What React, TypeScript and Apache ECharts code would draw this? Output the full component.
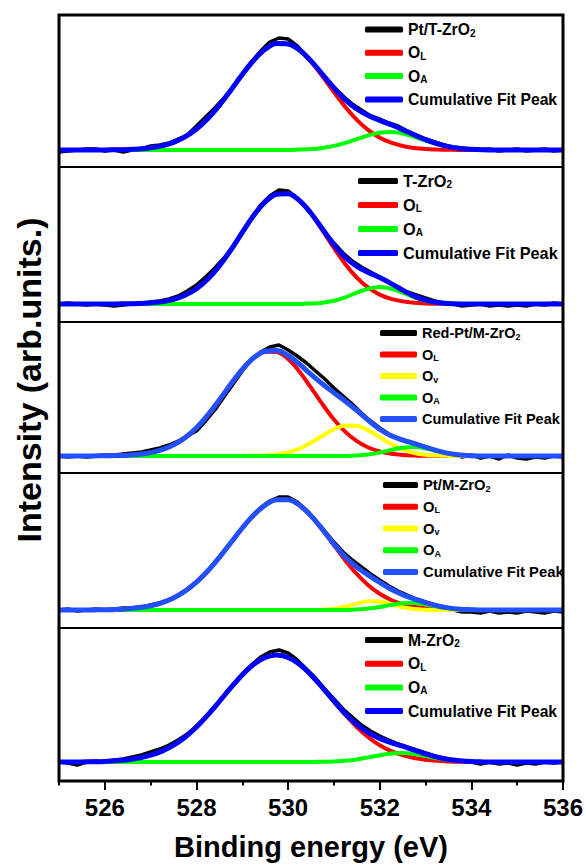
import React, { useEffect, useRef } from 'react';
import * as echarts from 'echarts';

// ---------- data ----------
// energy grid of the fitted curves (eV)
const FIT_E = [525, 525.25, 525.5, 525.75, 526, 526.25, 526.5, 526.75, 527, 527.25, 527.5, 527.75, 528, 528.25, 528.5, 528.75, 529, 529.25, 529.5, 529.75, 530, 530.25, 530.5, 530.75, 531, 531.25, 531.5, 531.75, 532, 532.25, 532.5, 532.75, 533, 533.25, 533.5, 533.75, 534, 534.25, 534.5, 534.75, 535, 535.25, 535.5, 535.75, 536];
// energy grid of the measured spectra (eV)
const DATA_E = [525.0, 525.2, 525.4, 525.6, 525.8, 526.0, 526.2, 526.4, 526.6, 526.8, 527.0, 527.2, 527.4, 527.6, 527.8, 528.0, 528.2, 528.4, 528.6, 528.8, 529.0, 529.2, 529.4, 529.6, 529.8, 530.0, 530.2, 530.4, 530.6, 530.8, 531.0, 531.2, 531.4, 531.6, 531.8, 532.0, 532.2, 532.4, 532.6, 532.8, 533.0, 533.2, 533.4, 533.6, 533.8, 534.0, 534.2, 534.4, 534.6, 534.8, 535.0, 535.2, 535.4, 535.6, 535.8, 536.0];

const SAMPLE_NAMES = ['Pt/T-ZrO2', 'T-ZrO2', 'Red-Pt/M-ZrO2', 'Pt/M-ZrO2', 'M-ZrO2'];
const X_TICKS = [526, 528, 530, 532, 534, 536];
const X_MINOR_TICKS = [525, 527, 529, 531, 533, 535];

// Panel 1: Pt/T-ZrO2
const P1_DATA = [-2, -1, 0, 1, 1, -1, 0, -2, 0, 1, 4, 5, 7, 11, 15, 24, 33, 42, 52, 63, 76, 88, 99, 108, 112, 111, 104, 94, 83, 72, 63, 54, 46, 40, 34, 31, 27, 24, 19, 15, 11, 8, 5, 3, 2, 1, 0, 1, -1, 0, 1, -1, 0, 1, -1, 0];
const P1_OL = [0, 0, 0, 0, 0.1, 0.2, 0.5, 1.1, 2.3, 4.3, 7.7, 13.1, 21.0, 31.6, 44.7, 59.8, 75.5, 89.8, 100.7, 106.4, 106.0, 99.6, 88.2, 73.6, 58.0, 43.0, 30.1, 19.8, 12.3, 7.3, 4.0, 2.1, 1.0, 0.5, 0.2, 0, 0, 0, 0, 0, 0, 0, 0, 0, 0];
const P1_OA = [0, 0, 0, 0, 0, 0, 0, 0, 0, 0, 0, 0, 0, 0, 0, 0, 0, 0, 0, 0, 0, 0.4, 0.9, 2.1, 4.1, 7.2, 10.9, 14.6, 17.3, 17.9, 16.4, 13.2, 9.4, 5.8, 3.2, 1.6, 0.7, 0.2, 0, 0, 0, 0, 0, 0, 0];
const P1_CUM = [0, 0, 0, 0, 0.1, 0.2, 0.5, 1.1, 2.3, 4.3, 7.7, 13.1, 21.0, 31.6, 44.7, 59.8, 75.5, 89.8, 100.7, 106.4, 106.0, 100.0, 89.1, 75.7, 62.1, 50.2, 41.0, 34.4, 29.6, 25.2, 20.4, 15.3, 10.4, 6.3, 3.4, 1.6, 0.7, 0.2, 0, 0, 0, 0, 0, 0, 0];

// Panel 2: T-ZrO2
const P2_DATA = [0, 1, 0, -1, 0, -1, -2, -1, 0, 1, 2, 3, 5, 8, 13, 19, 27, 36, 46, 57, 71, 86, 99, 108, 114, 113, 106, 96, 84, 72, 61, 51, 43, 37, 32, 27, 22, 17, 12, 9, 6, 3, 1, 0, -2, -1, 0, -2, -1, -2, -1, -2, 0, -1, 1, 0];
const P2_OL = [0, 0, 0, 0, 0, 0.1, 0.2, 0.5, 1.1, 2.3, 4.7, 8.8, 15.3, 25.0, 38.1, 54.0, 71.6, 88.5, 102.0, 109.8, 110.3, 103.3, 90.4, 73.7, 56.1, 39.8, 26.4, 16.3, 9.4, 5.1, 2.6, 1.2, 0.5, 0.2, 0.1, 0, 0, 0, 0, 0, 0, 0, 0, 0, 0];
const P2_OA = [0, 0, 0, 0, 0, 0, 0, 0, 0, 0, 0, 0, 0, 0, 0, 0, 0, 0, 0, 0, 0, 0, 0.4, 1.3, 3.3, 6.7, 11.3, 15.3, 17.0, 15.3, 11.3, 6.7, 3.3, 1.3, 0.4, 0.1, 0, 0, 0, 0, 0, 0, 0, 0, 0];
const P2_CUM = [0, 0, 0, 0, 0, 0.1, 0.2, 0.5, 1.1, 2.3, 4.7, 8.8, 15.3, 25.0, 38.1, 54.0, 71.6, 88.5, 102.0, 109.8, 110.3, 103.3, 90.8, 75.0, 59.4, 46.5, 37.7, 31.6, 26.4, 20.4, 13.9, 7.9, 3.8, 1.5, 0.5, 0.1, 0, 0, 0, 0, 0, 0, 0, 0, 0];

// Panel 3: Red-Pt/M-ZrO2
const P3_DATA = [0, -1, 0, -1, 0, 1, 1, 2, 3, 4, 6, 8, 11, 15, 20, 25, 35, 46, 59, 72, 85, 96, 104, 109, 111, 106, 100, 93, 85, 77, 68, 60, 52, 43, 35, 28, 22, 18, 15, 12, 9, 6, 3, 2, -1, 1, -2, 0, -3, 1, -2, -3, -1, -2, 0, -1];
const P3_OL = [0, 0, 0, 0.1, 0.2, 0.4, 0.8, 1.7, 3.4, 6.3, 11.1, 18.2, 28.2, 41.1, 56.1, 71.9, 86.6, 98.1, 104.3, 104.0, 96.9, 84.3, 68.4, 51.8, 36.5, 24.1, 14.8, 8.5, 4.6, 2.3, 1.1, 0.5, 0.2, 0.1, 0, 0, 0, 0, 0, 0, 0, 0, 0, 0, 0];
const P3_OV = [0, 0, 0, 0, 0, 0, 0, 0, 0, 0, 0, 0, 0, 0, 0, 0, 0, 0.2, 0.5, 1.5, 3.6, 7.4, 13.2, 20.2, 26.8, 30.6, 30.2, 25.6, 18.8, 11.9, 6.5, 3.0, 1.2, 0.4, 0.1, 0, 0, 0, 0, 0, 0, 0, 0, 0, 0];
const P3_OA = [0, 0, 0, 0, 0, 0, 0, 0, 0, 0, 0, 0, 0, 0, 0, 0, 0, 0, 0, 0, 0, 0, 0, 0, 0, 0.1, 0.5, 1.5, 3.4, 6.0, 8.3, 9.0, 7.5, 4.9, 2.5, 1.0, 0.3, 0, 0, 0, 0, 0, 0, 0, 0];
const P3_CUM = [0, 0, 0, 0.1, 0.2, 0.4, 0.8, 1.7, 3.4, 6.3, 11.1, 18.2, 28.2, 41.1, 56.1, 71.9, 86.6, 98.3, 104.8, 105.5, 100.5, 91.7, 81.6, 72.0, 63.3, 54.8, 45.5, 35.6, 26.8, 20.2, 15.9, 12.5, 8.9, 5.4, 2.6, 1.0, 0.3, 0, 0, 0, 0, 0, 0, 0, 0];

// Panel 4: Pt/M-ZrO2
const P4_DATA = [0, 1, -1, 0, 1, 0, 1, 2, 2, 3, 5, 7, 10, 15, 21, 28, 37, 47, 58, 70, 82, 93, 102, 109, 113, 113, 108, 100, 90, 79, 68, 58, 50, 43, 36, 30, 24, 19, 15, 11, 8, 5, 2, 0, -2, -2, -3, -1, -3, -2, -3, -1, -2, -3, -1, -2];
const P4_OL = [0, 0, 0, 0.1, 0.3, 0.6, 1.3, 2.4, 4.3, 7.4, 12.1, 18.8, 27.8, 39.2, 52.7, 67.3, 82.0, 95.0, 104.9, 110.3, 110.3, 104.7, 94.1, 80.3, 64.8, 49.6, 36.0, 24.8, 16.2, 10.0, 5.9, 3.3, 1.7, 0.9, 0.4, 0.2, 0.1, 0, 0, 0, 0, 0, 0, 0, 0];
const P4_OV = [0, 0, 0, 0, 0, 0, 0, 0, 0, 0, 0, 0, 0, 0, 0, 0, 0, 0, 0, 0, 0, 0, 0, 0.3, 1.2, 3.2, 6.4, 8.7, 8.4, 5.7, 2.7, 0.9, 0.2, 0, 0, 0, 0, 0, 0, 0, 0, 0, 0, 0, 0];
const P4_OA = [0, 0, 0, 0, 0, 0, 0, 0, 0, 0, 0, 0, 0, 0, 0, 0, 0, 0, 0, 0, 0, 0, 0, 0, 0, 0.1, 0.5, 1.4, 3.0, 5.1, 6.7, 6.9, 5.5, 3.4, 1.7, 0.6, 0.2, 0, 0, 0, 0, 0, 0, 0, 0];
const P4_CUM = [0, 0, 0, 0.1, 0.3, 0.6, 1.3, 2.4, 4.3, 7.4, 12.1, 18.8, 27.8, 39.2, 52.7, 67.3, 82.0, 95.0, 104.9, 110.3, 110.3, 104.7, 94.1, 80.6, 66.0, 52.9, 42.9, 34.9, 27.6, 20.8, 15.3, 11.1, 7.4, 4.3, 2.1, 0.8, 0.3, 0, 0, 0, 0, 0, 0, 0, 0];

// Panel 5: M-ZrO2
const P5_DATA = [0, -1, -3, 0, 1, 0, 2, 3, 5, 7, 10, 13, 17, 22, 28, 36, 45, 55, 66, 77, 88, 97, 105, 110, 112, 109, 102, 93, 84, 73, 63, 53, 45, 37, 31, 26, 22, 18, 15, 12, 9, 6, 4, 2, 1, 0, -2, 0, -2, -1, -3, -1, -2, 0, -1, 0];
const P5_OL = [0, 0, 0.1, 0.3, 0.6, 1.2, 2.3, 4.0, 6.8, 10.9, 16.8, 24.8, 35.0, 47.1, 60.5, 74.3, 87.1, 97.7, 104.5, 107.0, 104.5, 97.7, 87.1, 74.3, 60.5, 47.1, 35.0, 24.8, 16.8, 10.9, 6.8, 4.0, 2.3, 1.2, 0.6, 0.3, 0.1, 0, 0, 0, 0, 0, 0, 0, 0];
const P5_OA = [0, 0, 0, 0, 0, 0, 0, 0, 0, 0, 0, 0, 0, 0, 0, 0, 0, 0, 0, 0, 0, 0, 0, 0.2, 0.5, 1.2, 2.6, 4.6, 6.8, 8.5, 9.0, 7.9, 5.9, 3.7, 1.9, 0.9, 0.3, 0.1, 0, 0, 0, 0, 0, 0, 0];
const P5_CUM = [0, 0, 0.1, 0.3, 0.6, 1.2, 2.3, 4.0, 6.8, 10.9, 16.8, 24.8, 35.0, 47.1, 60.5, 74.3, 87.1, 97.7, 104.5, 107.0, 104.5, 97.7, 87.1, 74.5, 61.0, 48.3, 37.6, 29.4, 23.6, 19.4, 15.8, 11.9, 8.2, 4.9, 2.5, 1.2, 0.4, 0.1, 0, 0, 0, 0, 0, 0, 0];

// ---------- styling / layout ----------
const FONT = '"Liberation Sans", Arial, Helvetica, sans-serif';
const C_DATA = '#000000';
const C_OL = '#ff0000';
const C_OV = '#ffff00';
const C_OA = '#00ff00';

const PANELS = [
  { sample: SAMPLE_NAMES[0], data: P1_DATA, ol: P1_OL, ov: null, oa: P1_OA, cum: P1_CUM, cumColor: '#0000ff' },
  { sample: SAMPLE_NAMES[1], data: P2_DATA, ol: P2_OL, ov: null, oa: P2_OA, cum: P2_CUM, cumColor: '#0000ff' },
  { sample: SAMPLE_NAMES[2], data: P3_DATA, ol: P3_OL, ov: P3_OV, oa: P3_OA, cum: P3_CUM, cumColor: '#2250ff' },
  { sample: SAMPLE_NAMES[3], data: P4_DATA, ol: P4_OL, ov: P4_OV, oa: P4_OA, cum: P4_CUM, cumColor: '#2250ff' },
  { sample: SAMPLE_NAMES[4], data: P5_DATA, ol: P5_OL, ov: null, oa: P5_OA, cum: P5_CUM, cumColor: '#0000ff' },
];

// legend rows: centre of first row = lTop + lh/2, pitch = lh + lGap
const LAYOUT = [
  { top: 15, bottom: 167, yMin: -17, yMax: 135, lLeft: 365, lTop: 21, lGap: 6.3, iconW: 38, fs: 15.7, lh: 17 },
  { top: 167, bottom: 322, yMin: -18, yMax: 137, lLeft: 358, lTop: 172.5, lGap: 7, iconW: 40, fs: 16.3, lh: 17 },
  { top: 322, bottom: 473, yMin: -17, yMax: 134, lLeft: 380, lTop: 325, lGap: 5.5, iconW: 37, fs: 14.5, lh: 16 },
  { top: 473, bottom: 628, yMin: -18, yMax: 137, lLeft: 383, lTop: 477, lGap: 5.75, iconW: 35, fs: 14.8, lh: 16 },
  { top: 628, bottom: 781, yMin: -19, yMax: 134, lLeft: 365, lTop: 631.5, lGap: 6.7, iconW: 38, fs: 15.7, lh: 17 },
];

const pair = (xs: number[], ys: number[]) => ys.map((y, i) => [xs[i], y]);

const legendFormatter = (name: string) => {
  if (name === 'OL') return 'O{s|L}';
  if (name === 'OA') return 'O{s|A}';
  if (name === 'Ov') return 'O{s|v}';
  if (name.endsWith('ZrO2')) return name.slice(0, -1) + '{s|2}';
  return name;
};

function buildOption() {
  const grids = LAYOUT.map((L) => ({
    left: 59,
    right: 23,
    top: L.top,
    height: L.bottom - L.top,
    show: true,
    borderColor: '#000',
    borderWidth: 2,
    backgroundColor: 'transparent',
    containLabel: false,
    outerBoundsMode: 'none',
  }));

  const xAxes: any[] = [0, 1, 2, 3].map((i) => ({
    type: 'value',
    gridIndex: i,
    min: 525,
    max: 536,
    show: false,
  }));
  xAxes.push({
    type: 'value',
    gridIndex: 4,
    min: 525,
    max: 536,
    position: 'bottom',
    axisLine: { show: true, onZero: false, lineStyle: { color: '#000', width: 2 } },
    axisTick: { show: true, customValues: X_TICKS, length: 9, inside: false, lineStyle: { color: '#000', width: 2 } },
    axisLabel: {
      show: true,
      customValues: X_TICKS,
      margin: 14,
      color: '#000',
      fontSize: 24,
      fontWeight: 'bold',
      fontFamily: FONT,
    },
    splitLine: { show: false },
    name: 'Binding energy (eV)',
    nameLocation: 'middle',
    nameGap: 51,
    nameTextStyle: { color: '#000', fontSize: 29, fontWeight: 'bold', fontFamily: FONT },
  });
  xAxes.push({
    type: 'value',
    gridIndex: 4,
    min: 525,
    max: 536,
    position: 'bottom',
    axisLine: { show: false, onZero: false },
    axisTick: { show: true, customValues: X_MINOR_TICKS, length: 4.5, inside: false, lineStyle: { color: '#000', width: 2 } },
    axisLabel: { show: false },
    splitLine: { show: false },
  });

  const yAxes = LAYOUT.map((L, i) => ({
    type: 'value',
    gridIndex: i,
    min: L.yMin,
    max: L.yMax,
    show: false,
  }));

  const series: any[] = [];
  const legends: any[] = [];
  PANELS.forEach((p, i) => {
    const common = { type: 'line', xAxisIndex: i, yAxisIndex: i, showSymbol: false, symbol: 'none', silent: true };
    series.push({ ...common, name: p.sample, data: pair(DATA_E, p.data), color: C_DATA, lineStyle: { color: C_DATA, width: 3.5, join: 'round' } });
    series.push({ ...common, name: 'OL', data: pair(FIT_E, p.ol), smooth: 0.35, color: C_OL, lineStyle: { color: C_OL, width: 4 } });
    if (p.ov) {
      series.push({ ...common, name: 'Ov', data: pair(FIT_E, p.ov), smooth: 0.35, color: C_OV, lineStyle: { color: C_OV, width: 4 } });
    }
    series.push({ ...common, name: 'OA', data: pair(FIT_E, p.oa), smooth: 0.35, color: C_OA, lineStyle: { color: C_OA, width: 4 } });
    series.push({ ...common, name: 'Cumulative Fit Peak', data: pair(FIT_E, p.cum), smooth: 0.35, color: p.cumColor, lineStyle: { color: p.cumColor, width: 5 } });

    const L = LAYOUT[i];
    const items: any[] = [
      { name: p.sample, itemStyle: { color: C_DATA } },
      { name: 'OL', itemStyle: { color: C_OL } },
    ];
    if (p.ov) items.push({ name: 'Ov', itemStyle: { color: C_OV } });
    items.push({ name: 'OA', itemStyle: { color: C_OA } });
    items.push({ name: 'Cumulative Fit Peak', itemStyle: { color: p.cumColor } });
    legends.push({
      orient: 'vertical',
      left: L.lLeft,
      top: L.lTop,
      padding: 0,
      itemGap: L.lGap,
      itemWidth: L.iconW,
      itemHeight: 6,
      icon: 'roundRect',
      selectedMode: false,
      data: items,
      formatter: legendFormatter,
      textStyle: {
        color: '#000',
        fontSize: L.fs,
        fontWeight: 'bold',
        fontFamily: FONT,
        lineHeight: L.lh,
        rich: {
          s: { color: '#000', fontSize: Math.round(L.fs * 0.64), fontWeight: 'bold', fontFamily: FONT, verticalAlign: 'bottom', lineHeight: Math.round(L.fs * 0.64) },
        },
      },
    });
  });

  return {
    animation: false,
    backgroundColor: '#ffffff',
    grid: grids,
    xAxis: xAxes,
    yAxis: yAxes,
    legend: legends,
    series,
    graphic: [
      {
        type: 'rect',
        silent: true,
        z: 100,
        shape: { x: 59, y: 15, width: 504, height: 766 },
        style: { fill: 'none', stroke: '#000', lineWidth: 3 },
      },
      {
        type: 'text',
        silent: true,
        x: 29,
        y: 380,
        rotation: Math.PI / 2,
        style: {
          text: 'Intensity (arb.units.)',
          fill: '#000',
          fontSize: 34,
          fontWeight: 'bold',
          fontFamily: FONT,
          align: 'center',
          verticalAlign: 'middle',
        },
      },
    ],
  };
}

export default function App() {
  const ref = useRef<HTMLDivElement>(null);
  useEffect(() => {
    document.body.style.margin = '0';
    if (!ref.current) return;
    const chart = echarts.init(ref.current, undefined, { renderer: 'svg' });
    chart.setOption(buildOption() as any);
    return () => {
      chart.dispose();
    };
  }, []);
  return <div ref={ref} style={{ width: 586, height: 866 }} />;
}
